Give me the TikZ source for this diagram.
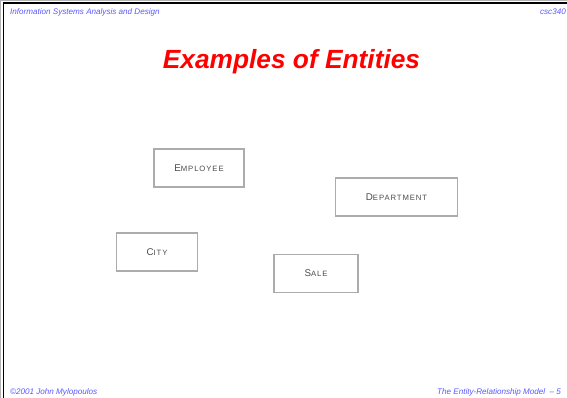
\documentclass[tikz,border=0pt]{standalone}
\usepackage{fontspec}
\setsansfont{Liberation Sans}
\newfontfamily\boxfont[LetterSpace=12]{Liberation Sans}
% small capitals built from two sizes of capitals
\newcommand{\entcaps}[2]{{\boxfont\fontsize{9.8}{11}\selectfont #1\fontsize{7.7}{9}\selectfont #2}}
\begin{document}
\begin{tikzpicture}[x=1pt,y=-1pt,
  header/.style={font=\sffamily\itshape\fontsize{8.1}{10}\selectfont, text=blue!65, inner sep=0pt},
  entity/.style={draw=gray!65, line width=1.1pt, minimum width=#1, minimum height=38pt,
    inner sep=0pt, text=gray!60!black},
  entity/.default=90pt]
  \useasboundingbox (0,0) rectangle (567,398);
  \fill[white] (0,0) rectangle (567,398);
  % slide frame
  \draw[gray!60, line width=0.6pt] (0.3,398) -- (0.3,0.3) -- (567,0.3);
  \draw[black, line width=1.6pt] (3.5,398) -- (3.5,3) -- (567,3);
  % running head and foot
  \node[header, anchor=west] (course) at (10,12) {Information Systems Analysis and Design};
  \node[header, anchor=east] (code) at (566,12) {csc340};
  \node[header, anchor=west] (copy) at (10,392) {\textcopyright 2001 John Mylopoulos};
  \node[header, anchor=west] (chapter) at (437,392) {The Entity-Relationship Model\ \ -- 5};
  % title
  \node[font=\sffamily\bfseries\itshape\fontsize{26.3}{30}\selectfont, text=red, inner sep=0pt]
    (title) at (291.5,62) {Examples of Entities};
  % entities
  \node[entity=90pt] (employee) at (199,168) {\entcaps{E}{MPLOYEE}};
  \node[entity=122pt] (department) at (396.5,197) {\entcaps{D}{EPARTMENT}};
  \node[entity=81pt] (city) at (157,252) {\entcaps{C}{ITY}};
  \node[entity=84pt] (sale) at (316,273.5) {\entcaps{S}{ALE}};
\end{tikzpicture}
\end{document}
